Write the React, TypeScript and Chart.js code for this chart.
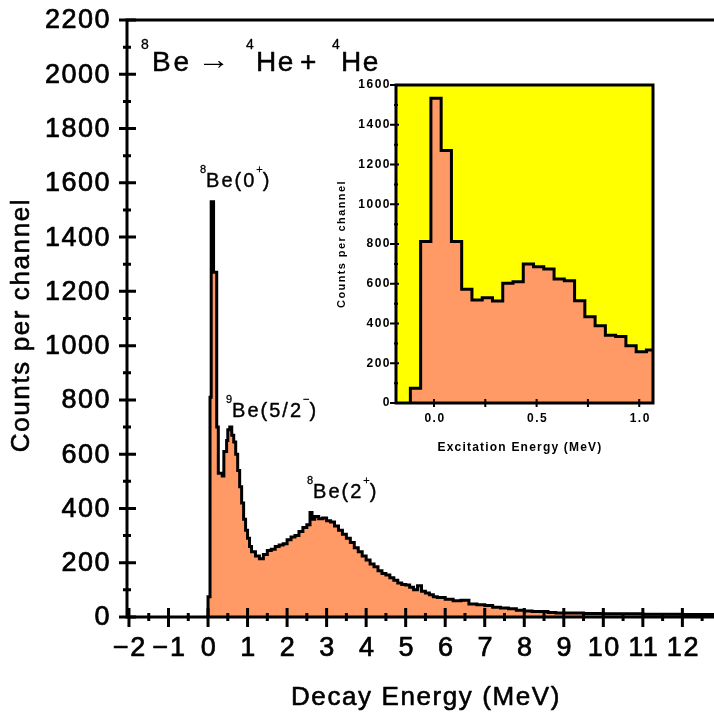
import React, { useEffect, useRef } from 'react';
import { Chart, registerables } from 'chart.js';

Chart.register(...registerables);

const FONT = '"Liberation Sans", Arial, Helvetica, sans-serif';
const ORANGE = 'rgb(255, 153, 102)';
const YELLOW = 'rgb(255, 255, 0)';

// ---- Main spectrum: left edge of each channel group (MeV) and counts ----
const mainBinEdges = [
  0.0, 0.05, 0.08, 0.14, 0.22, 0.26, 0.36, 0.4, 0.47, 0.5,
  0.55, 0.6, 0.65, 0.7, 0.75, 0.8, 0.85, 0.9, 0.95, 1.0,
  1.05, 1.1, 1.2, 1.3, 1.4, 1.5, 1.6, 1.7, 1.8, 1.9,
  2.0, 2.1, 2.2, 2.3, 2.4, 2.5, 2.58, 2.63, 2.7, 2.8,
  2.9, 3.0, 3.1, 3.2, 3.3, 3.4, 3.5, 3.6, 3.7, 3.8,
  3.9, 4.0, 4.1, 4.2, 4.3, 4.4, 4.5, 4.6, 4.7, 4.8,
  4.9, 5.0, 5.1, 5.2, 5.3, 5.4, 5.5, 5.6, 5.7, 5.8,
  6.0, 6.2, 6.4, 6.6, 6.8, 7.0, 7.2, 7.4, 7.6, 7.8,
  8.0, 8.2, 8.4, 8.6, 8.8, 9.0, 9.5, 10.0, 10.5, 11.0,
  11.5, 12.0,
];
const mainCounts = [
  75, 810, 1530, 1270, 700, 530, 520, 610, 650, 690,
  700, 670, 645, 600, 540, 480, 420, 360, 320, 290,
  260, 240, 225, 215, 230, 245, 250, 260, 265, 270,
  285, 295, 300, 315, 330, 340, 385, 360, 370, 362,
  365, 355, 350, 335, 320, 305, 290, 275, 255, 240,
  225, 210, 195, 185, 170, 160, 155, 145, 135, 125,
  120, 118, 110, 100, 115, 95, 88, 82, 75, 72,
  65, 60, 62, 48, 45, 42, 36, 33, 30, 25,
  22, 20, 20, 17, 15, 15, 13, 12, 12, 10,
  10, 9,
];
const mainLastEdge = 12.8;

const mainXTicks = [-2, -1, 0, 1, 2, 3, 4, 5, 6, 7, 8, 9, 10, 11, 12];
const mainXMinorTicks = [-1.5, -0.5, 0.5, 1.5, 2.5, 3.5, 4.5, 5.5, 6.5, 7.5, 8.5, 9.5, 10.5, 11.5, 12.5];
const mainYTicks = [0, 200, 400, 600, 800, 1000, 1200, 1400, 1600, 1800, 2000, 2200];
const mainYMinorTicks = [100, 300, 500, 700, 900, 1100, 1300, 1500, 1700, 1900, 2100];

// ---- Inset: excitation energy spectrum ----
const insetBinEdges = [
  -0.115, -0.065, -0.015, 0.035, 0.085, 0.135, 0.185, 0.235, 0.285, 0.335,
  0.385, 0.435, 0.485, 0.535, 0.585, 0.635, 0.685, 0.735, 0.785, 0.835,
  0.885, 0.935, 0.985, 1.035,
];
const insetCounts = [
  74, 812, 1533, 1270, 812, 572, 518, 530, 513, 602,
  610, 699, 686, 674, 624, 615, 515, 434, 389, 341,
  334, 288, 258, 267,
];
const insetLastEdge = 1.067;

const insetXTicks = [0.0, 0.5, 1.0];
const insetXTickLabels = ['0.0', '0.5', '1.0'];
const insetXMinorTicks = [0.25, 0.75];
const insetYTicks = [0, 200, 400, 600, 800, 1000, 1200, 1400, 1600];
const insetYMinorTicks = [100, 300, 500, 700, 900, 1100, 1300, 1500];

type Pt = { x: number; y: number };
function stepPoints(edges: number[], counts: number[], last: number): Pt[] {
  const pts: Pt[] = [{ x: edges[0], y: 0 }];
  edges.forEach((e, i) => pts.push({ x: e, y: counts[i] }));
  pts.push({ x: last, y: counts[counts.length - 1] });
  return pts;
}

function setFont(ctx: CanvasRenderingContext2D, size: number, weight = 'normal', ls = 0) {
  ctx.font = `${weight} ${size}px ${FONT}`;
  (ctx as any).letterSpacing = `${ls}px`;
}

function heavyText(ctx: CanvasRenderingContext2D, s: string, x: number, y: number, sw = 0.6) {
  ctx.fillText(s, x, y);
  if (sw > 0) {
    ctx.lineWidth = sw;
    ctx.lineJoin = 'round';
    ctx.strokeText(s, x, y);
  }
}

// piece: [text, x, baseline, size, letterSpacing]
type Piece = [string, number, number, number, number];
function pieces(ctx: CanvasRenderingContext2D, list: Piece[], sw = 0.5) {
  ctx.textAlign = 'left';
  ctx.textBaseline = 'alphabetic';
  for (const [t, x, b, size, ls] of list) {
    setFont(ctx, size, 'normal', ls);
    heavyText(ctx, t, x, b, size < 20 ? 0.3 : sw);
  }
}

// label with superscripts laid out sequentially
type Part = [string, boolean];
function rich(
  ctx: CanvasRenderingContext2D,
  parts: Part[],
  x: number,
  baseline: number,
  size: number,
  supSize: number,
  rise: number,
  ls: number
) {
  let cx = x;
  ctx.textAlign = 'left';
  ctx.textBaseline = 'alphabetic';
  for (const [t, sup] of parts) {
    setFont(ctx, sup ? supSize : size, 'normal', sup ? 0 : ls);
    heavyText(ctx, t, cx, sup ? baseline - rise : baseline, sup ? 0.3 : 0.4);
    cx += ctx.measureText(t).width;
  }
}

const fmtMinus = (v: number) => (v < 0 ? '\u2212' + String(-v) : String(v));

const mainDecor = {
  id: 'mainDecor',
  afterDraw(chart: any) {
    const { ctx, chartArea: a, scales } = chart;
    const x = scales.x;
    const y = scales.y;
    ctx.save();
    ctx.strokeStyle = '#000';
    ctx.fillStyle = '#000';
    ctx.lineCap = 'butt';
    ctx.lineWidth = 3;
    ctx.beginPath();
    ctx.moveTo(a.left - 1.5, a.top);
    ctx.lineTo(a.right, a.top);
    ctx.moveTo(a.left, a.top);
    ctx.lineTo(a.left, a.bottom + 1.5);
    ctx.moveTo(a.left, a.bottom);
    ctx.lineTo(a.right, a.bottom);
    ctx.stroke();

    ctx.beginPath();
    for (const v of mainYTicks) {
      const py = y.getPixelForValue(v);
      ctx.moveTo(a.left - 8, py);
      ctx.lineTo(a.left + 9, py);
    }
    for (const v of mainYMinorTicks) {
      const py = y.getPixelForValue(v);
      ctx.moveTo(a.left - 4, py);
      ctx.lineTo(a.left + 4, py);
    }
    for (const v of mainXTicks) {
      const px = x.getPixelForValue(v);
      ctx.moveTo(px, a.bottom - 9);
      ctx.lineTo(px, a.bottom + 10);
    }
    for (const v of mainXMinorTicks) {
      const px = x.getPixelForValue(v);
      ctx.moveTo(px, a.bottom - 4);
      ctx.lineTo(px, a.bottom + 4);
    }
    ctx.stroke();

    // tick labels
    setFont(ctx, 27, 'normal', 1.5);
    ctx.textAlign = 'right';
    ctx.textBaseline = 'middle';
    for (const v of mainYTicks) {
      heavyText(ctx, String(v), a.left - 16, y.getPixelForValue(v) + 1, 0.7);
    }
    ctx.textAlign = 'center';
    ctx.textBaseline = 'alphabetic';
    for (const v of mainXTicks) {
      heavyText(ctx, fmtMinus(v), x.getPixelForValue(v) + 1, a.bottom + 39, 0.7);
    }

    // axis titles
    setFont(ctx, 26, 'normal', 1.6);
    ctx.textAlign = 'center';
    heavyText(ctx, 'Decay Energy (MeV)', 426, 705, 0.6);
    ctx.save();
    ctx.translate(29, 325);
    ctx.rotate(-Math.PI / 2);
    heavyText(ctx, 'Counts per channel', 0, 0, 0.6);
    ctx.restore();

    // reaction label: 8Be -> 4He + 4He
    pieces(ctx, [
      ['8', 141, 49, 14, 0],
      ['Be', 152, 71, 28, 2.8],
      ['4', 246, 49, 14, 0],
      ['He', 256, 71, 28, 1.5],
      ['+', 300, 71, 28, 0],
      ['4', 332, 49, 14, 0],
      ['He', 341, 71, 28, 1.5],
    ]);
    // the arrow, stretched to its width in the original
    setFont(ctx, 28, 'normal', 0);
    const aw = ctx.measureText('\u2192').width;
    ctx.save();
    ctx.translate(197, 69);
    ctx.scale(33 / aw, 1);
    ctx.textAlign = 'left';
    ctx.fillText('\u2192', 0, 0);
    ctx.restore();

    // peak labels
    rich(ctx, [['8', true], ['Be(0', false], ['+', true], [')', false]], 200, 187, 20, 11, 14, 2);
    rich(ctx, [['9', true], ['Be(5/2', false], ['\u2212', true], [')', false]], 226, 417, 20, 11, 14, 2);
    rich(ctx, [['8', true], ['Be(2', false], ['+', true], [')', false]], 307, 498, 20, 11, 14, 2);
    ctx.restore();
  },
};

const insetDecor = {
  id: 'insetDecor',
  beforeDatasetsDraw(chart: any) {
    const { ctx, chartArea: a } = chart;
    ctx.save();
    ctx.fillStyle = YELLOW;
    ctx.fillRect(a.left, a.top, a.right - a.left, a.bottom - a.top);
    ctx.restore();
  },
  afterDraw(chart: any) {
    const { ctx, chartArea: a, scales } = chart;
    const x = scales.x;
    const y = scales.y;
    ctx.save();
    ctx.strokeStyle = '#000';
    ctx.fillStyle = '#000';
    ctx.lineWidth = 3;
    ctx.strokeRect(a.left, a.top, a.right - a.left, a.bottom - a.top);
    ctx.lineWidth = 2;
    ctx.beginPath();
    for (const v of insetYTicks) {
      const py = y.getPixelForValue(v);
      ctx.moveTo(a.left - 6, py);
      ctx.lineTo(a.left + 3, py);
    }
    for (const v of insetYMinorTicks) {
      const py = y.getPixelForValue(v);
      ctx.moveTo(a.left - 2, py);
      ctx.lineTo(a.left + 2, py);
    }
    for (const v of [...insetXTicks, ...insetXMinorTicks]) {
      const px = x.getPixelForValue(v);
      ctx.moveTo(px, a.bottom - 4);
      ctx.lineTo(px, a.bottom + 4);
    }
    ctx.stroke();

    setFont(ctx, 12, 'bold', 1.5);
    ctx.textAlign = 'right';
    ctx.textBaseline = 'middle';
    for (const v of insetYTicks) {
      ctx.fillText(String(v), a.left - 5, y.getPixelForValue(v));
    }
    ctx.textAlign = 'center';
    ctx.textBaseline = 'alphabetic';
    insetXTicks.forEach((v, i) => {
      ctx.fillText(insetXTickLabels[i], x.getPixelForValue(v) + 1, a.bottom + 19);
    });
    setFont(ctx, 12, 'bold', 1.2);
    ctx.fillText('Excitation Energy (MeV)', 190, a.bottom + 48);
    ctx.save();
    ctx.translate(15, (a.top + a.bottom) / 2);
    ctx.rotate(-Math.PI / 2);
    setFont(ctx, 11, 'bold', 1.4);
    ctx.fillText('Counts per channel', 0, 0);
    ctx.restore();
    ctx.restore();
  },
};

export default function App() {
  const mainRef = useRef<HTMLCanvasElement>(null);
  const insetRef = useRef<HTMLCanvasElement>(null);

  useEffect(() => {
    const main = new Chart(mainRef.current as HTMLCanvasElement, {
      type: 'line',
      data: {
        datasets: [
          {
            data: stepPoints(mainBinEdges, mainCounts, mainLastEdge),
            stepped: true,
            fill: 'origin',
            backgroundColor: ORANGE,
            borderColor: '#000',
            borderWidth: 3,
            pointRadius: 0,
            borderJoinStyle: 'miter',
          } as any,
        ],
      },
      options: {
        animation: false,
        responsive: false,
        maintainAspectRatio: false,
        layout: { padding: { top: 20, right: 0, left: 0, bottom: 0 } },
        plugins: { legend: { display: false }, tooltip: { enabled: false } },
        scales: {
          x: {
            type: 'linear',
            min: -2.05,
            max: mainLastEdge,
            grid: { display: false },
            border: { display: false },
            ticks: { display: false },
            afterFit: (s: any) => {
              s.height = 101;
            },
          },
          y: {
            type: 'linear',
            min: 0,
            max: 2200,
            grid: { display: false },
            border: { display: false },
            ticks: { display: false },
            afterFit: (s: any) => {
              s.width = 127;
            },
          },
        },
      },
      plugins: [mainDecor],
    });

    const inset = new Chart(insetRef.current as HTMLCanvasElement, {
      type: 'line',
      data: {
        datasets: [
          {
            data: stepPoints(insetBinEdges, insetCounts, insetLastEdge),
            stepped: true,
            fill: 'origin',
            backgroundColor: ORANGE,
            borderColor: '#000',
            borderWidth: 3,
            pointRadius: 0,
            borderJoinStyle: 'miter',
          } as any,
        ],
      },
      options: {
        animation: false,
        responsive: false,
        maintainAspectRatio: false,
        layout: { padding: { top: 17, right: 7, left: 0, bottom: 0 } },
        plugins: { legend: { display: false }, tooltip: { enabled: false } },
        scales: {
          x: {
            type: 'linear',
            min: -0.185,
            max: insetLastEdge,
            grid: { display: false },
            border: { display: false },
            ticks: { display: false },
            afterFit: (s: any) => {
              s.height = 65;
            },
          },
          y: {
            type: 'linear',
            min: 0,
            max: 1600,
            grid: { display: false },
            border: { display: false },
            ticks: { display: false },
            afterFit: (s: any) => {
              s.width = 66;
            },
          },
        },
      },
      plugins: [insetDecor],
    });

    return () => {
      main.destroy();
      inset.destroy();
    };
  }, []);

  return (
    <div style={{ position: 'fixed', left: 0, top: 0, width: 714, height: 718, background: '#fff', overflow: 'hidden' }}>
      <canvas ref={mainRef} width={714} height={718} style={{ position: 'absolute', left: 0, top: 0, width: 714, height: 718 }} />
      <canvas ref={insetRef} width={330} height={400} style={{ position: 'absolute', left: 330, top: 68, width: 330, height: 400 }} />
    </div>
  );
}
